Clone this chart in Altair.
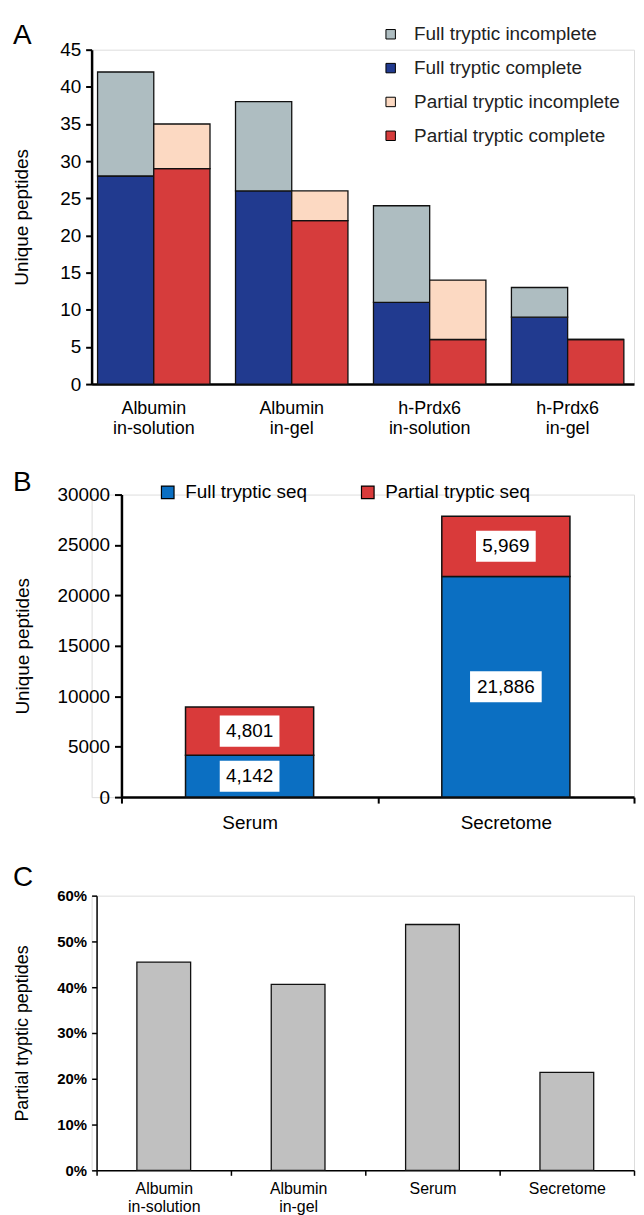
import altair as alt
import pandas as pd

FONT = "Liberation Sans"

# ---------------- Panel A data ----------------
a_samples = ["Albumin|in-solution", "Albumin|in-gel", "h-Prdx6|in-solution", "h-Prdx6|in-gel"]
a_series = ["Full tryptic incomplete", "Full tryptic complete",
            "Partial tryptic incomplete", "Partial tryptic complete"]
a_colors = ["#aebdc1", "#213a8f", "#fcd9c2", "#d63c3c"]
full_complete = [28, 26, 11, 9]
full_incomplete = [14, 12, 13, 4]
partial_complete = [29, 22, 6, 6]
partial_incomplete = [6, 4, 8, 0]

rows_a = []
for i, s in enumerate(a_samples):
    rows_a.append(dict(sample=s, grp="Full", series=a_series[1], value=full_complete[i], ord=0))
    rows_a.append(dict(sample=s, grp="Full", series=a_series[0], value=full_incomplete[i], ord=1))
    rows_a.append(dict(sample=s, grp="Partial", series=a_series[3], value=partial_complete[i], ord=0))
    rows_a.append(dict(sample=s, grp="Partial", series=a_series[2], value=partial_incomplete[i], ord=1))
df_a = pd.DataFrame(rows_a)

# ---------------- Panel B data ----------------
b_samples = ["Serum", "Secretome"]
b_series = ["Full tryptic seq", "Partial tryptic seq"]
b_colors = ["#0b6fc2", "#d93a3a"]
b_full = [4142, 21886]
b_partial = [4801, 5969]
b_text_full = ["4,142", "21,886"]
b_text_partial = ["4,801", "5,969"]

rows_b = []
for i, s in enumerate(b_samples):
    rows_b.append(dict(sample=s, series=b_series[0], value=b_full[i], ord=0, txt=b_text_full[i]))
    rows_b.append(dict(sample=s, series=b_series[1], value=b_partial[i], ord=1, txt=b_text_partial[i]))
df_b = pd.DataFrame(rows_b)
df_b["box"] = df_b["txt"].map(lambda t: "M-1,-0.52H1V0.52H-1Z" if len(t) <= 5 else "M-1,-0.43H1V0.43H-1Z")
df_b["boxsize"] = df_b["txt"].map(lambda t: 3600 if len(t) <= 5 else 5184)

# ---------------- Panel C data ----------------
c_samples = ["Albumin|in-solution", "Albumin|in-gel", "Serum", "Secretome"]
c_values = [0.455, 0.406, 0.537, 0.214]
df_c = pd.DataFrame(dict(sample=c_samples, value=c_values))


def letter(ch, dx, dy):
    return alt.Chart(pd.DataFrame({"t": [ch]})).mark_text(
        font=FONT, fontSize=28, align="left", baseline="alphabetic", color="black"
    ).encode(text="t:N", x=alt.value(dx), y=alt.value(dy))


W = 545  # common plot width (plot left edge shared by all panels)

# ---------------- Panel A chart ----------------
A_H = 336
bars_a = alt.Chart(df_a).mark_bar(stroke="#111", strokeWidth=1.3).encode(
    x=alt.X("sample:N", sort=a_samples,
            scale=alt.Scale(paddingInner=0.185, paddingOuter=0.0584, align=0.37),
            axis=alt.Axis(title=None, labelExpr="split(datum.label, '|')", labelAngle=0,
                          ticks=False, domainWidth=2.5, domainColor="black",
                          labelFont=FONT, labelFontSize=18, labelColor="black",
                          labelPadding=16, labelLineHeight=20)),
    xOffset=alt.XOffset("grp:N", sort=["Full", "Partial"],
                        scale=alt.Scale(paddingInner=0, paddingOuter=0)),
    y=alt.Y("value:Q", stack="zero", scale=alt.Scale(domain=[0, 45], nice=False),
            axis=alt.Axis(values=list(range(0, 46, 5)), title="Unique peptides", grid=False,
                          domainWidth=2.5, domainColor="black", tickWidth=2, tickColor="black",
                          tickSize=6, labelFont=FONT, labelFontSize=19, labelColor="black",
                          labelPadding=5, titleFont=FONT, titleFontSize=19,
                          titleFontWeight="normal", titleColor="black",
                          titleX=-70, titleBaseline="middle")),
    color=alt.Color("series:N", scale=alt.Scale(domain=a_series, range=a_colors),
                    legend=alt.Legend(title=None, orient="none", legendX=291, legendY=-25,
                                      symbolType="square", symbolSize=90,
                                      symbolStrokeColor="black", symbolStrokeWidth=1,
                                      labelFont=FONT, labelFontSize=19, labelColor="#222",
                                      labelLimit=400, labelOffset=14, rowPadding=14)),
    order=alt.Order("ord:Q"),
)
chart_a = alt.layer(bars_a, letter("A", -79, -6)).properties(width=W, height=A_H)

# ---------------- Panel B chart ----------------
B_H = 304
base_b = alt.Chart(df_b).encode(
    x=alt.X("sample:N", sort=b_samples,
            scale=alt.Scale(paddingInner=0, paddingOuter=0, range=[30, W]),
            axis=alt.Axis(title=None, labelAngle=0, tickBand="extent", ticks=True,
                          tickSize=6, tickWidth=2, tickColor="black",
                          domainWidth=2.5, domainColor="black",
                          labelFont=FONT, labelFontSize=19, labelColor="black",
                          labelPadding=11)),
)
bars_b = base_b.mark_bar(stroke="#111", strokeWidth=1.5, width=alt.RelativeBandSize(0.5)).encode(
    y=alt.Y("value:Q", stack="zero", scale=alt.Scale(domain=[0, 30000], nice=False),
            axis=alt.Axis(values=list(range(0, 30001, 5000)), format="d",
                          title="Unique peptides", offset=-30,
                          grid=False, domainWidth=2.5, domainColor="black", tickWidth=2,
                          tickColor="black", tickSize=7, labelFont=FONT, labelFontSize=19,
                          labelColor="black", labelPadding=5, titleFont=FONT,
                          titleFontSize=19, titleFontWeight="normal", titleColor="black",
                          titleX=-99, titleBaseline="middle")),
    color=alt.Color("series:N", scale=alt.Scale(domain=b_series, range=b_colors),
                    legend=alt.Legend(title=None, orient="none", legendX=67, legendY=-12,
                                      direction="horizontal", symbolType="square",
                                      symbolSize=160, symbolStrokeColor="black",
                                      symbolStrokeWidth=1.2, labelFont=FONT,
                                      labelFontSize=19, labelColor="black", labelOffset=8,
                                      labelLimit=400, columnPadding=51)),
    order=alt.Order("ord:Q"),
)
mid_b = base_b.transform_window(
    cum="sum(value)", groupby=["sample"], sort=[alt.SortField("ord")], frame=[None, 0]
).transform_calculate(mid="datum.cum - datum.value / 2")
boxes_b = mid_b.mark_point(filled=True, color="white", opacity=1, strokeWidth=0).encode(
    y=alt.Y("mid:Q"),
    shape=alt.Shape("box:N", scale=None, legend=None),
    size=alt.Size("boxsize:Q", scale=None, legend=None),
)
text_b = mid_b.mark_text(font=FONT, fontSize=19, color="black", baseline="middle").encode(
    y=alt.Y("mid:Q"), text="txt:N"
)
chart_b = alt.layer(bars_b, boxes_b, text_b, letter("B", -79, -4)).properties(
    width=W, height=B_H)

# ---------------- Panel C chart ----------------
C_H = 276
bars_c = alt.Chart(df_c).mark_bar(color="#c0c0c0", stroke="#111", strokeWidth=1.3,
                                  width=alt.RelativeBandSize(0.4)).encode(
    x=alt.X("sample:N", sort=c_samples,
            scale=alt.Scale(paddingInner=0, paddingOuter=0, range=[5, W]),
            axis=alt.Axis(title=None, labelExpr="split(datum.label, '|')", labelAngle=0,
                          tickBand="extent", tickSize=5, tickWidth=1.5, tickColor="black",
                          domainWidth=1.5, domainColor="black",
                          labelFont=FONT, labelFontSize=16, labelColor="black",
                          labelPadding=5, labelLineHeight=18)),
    y=alt.Y("value:Q", scale=alt.Scale(domain=[0, 0.6], nice=False),
            axis=alt.Axis(values=[0, 0.1, 0.2, 0.3, 0.4, 0.5, 0.6], format=".0%",
                          title="Partial tryptic peptides", offset=-5, grid=False,
                          domainWidth=1.5, domainColor="black", tickWidth=1.5,
                          tickColor="black", tickSize=5, labelFont=FONT, labelFontSize=15,
                          labelFontWeight="bold", labelColor="black", labelPadding=5,
                          titleFont=FONT, titleFontSize=18, titleFontWeight="normal",
                          titleColor="black", titleX=-74, titleBaseline="middle")),
)
chart_c = alt.layer(bars_c, letter("C", -79, -10)).properties(width=W, height=C_H)

chart = alt.vconcat(chart_a, chart_b, chart_c, spacing=29).resolve_scale(
    color="independent", x="independent", y="independent"
).resolve_legend(color="independent").properties(
    padding={"left": 4, "top": 10, "right": 0, "bottom": 0}
).configure_view(stroke=None).configure(background="white")

chart.save("out.html", embed_options={"renderer": "svg", "actions": False})
